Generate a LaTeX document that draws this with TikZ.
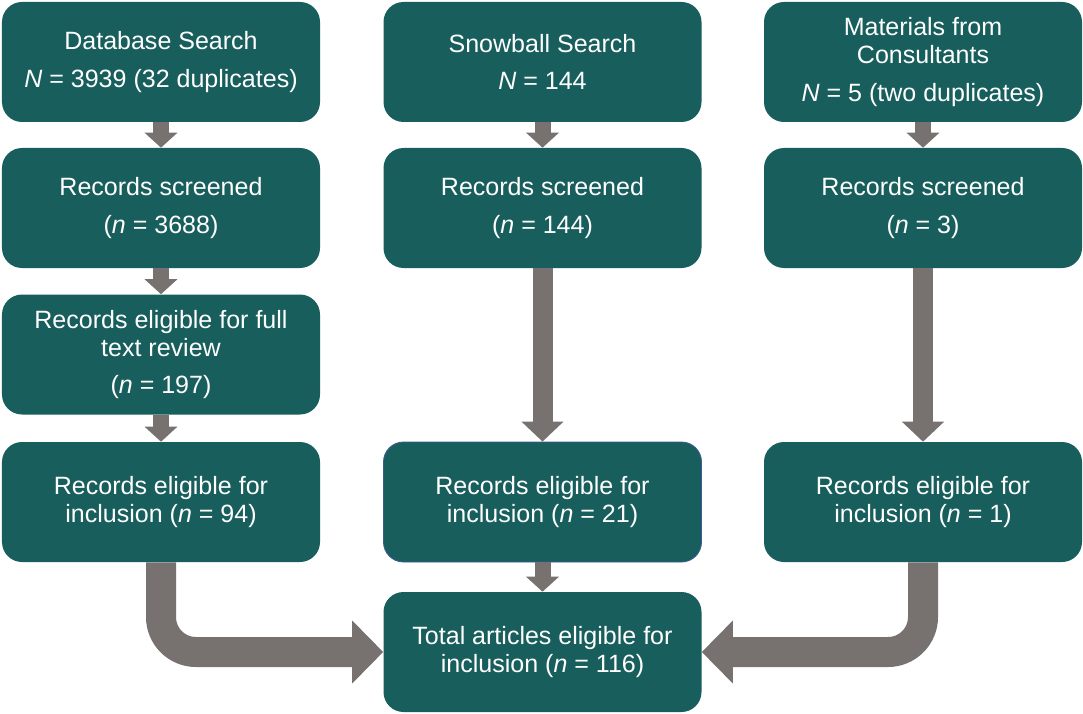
\documentclass[tikz,border=0pt]{standalone}
\usepackage{fontspec}
\setmainfont{Liberation Sans}
\usepackage{tikz}
\usetikzlibrary{arrows.meta}
\definecolor{boxteal}{HTML}{175E5C}
\definecolor{arrowgray}{HTML}{77716F}
\definecolor{edgeblue}{HTML}{3D5A96}

\begin{document}
\begin{tikzpicture}[
  box/.style={fill=boxteal, text=white, rounded corners=0.5cm, minimum width=7.95cm,
    minimum height=3cm, inner sep=0pt, align=center, font=\fontsize{17.8}{19.9}\selectfont},
  smallarrow/.style={draw=arrowgray, line width=0.4cm, -{Triangle[width=0.8cm,length=0.375cm]}},
  longarrow/.style={draw=arrowgray, line width=0.5cm, -{Triangle[width=1.025cm,length=0.5cm]}},
  bigarrow/.style={draw=arrowgray, line width=0.75cm, rounded corners=0.875cm,
    -{Triangle[width=1.525cm,length=0.775cm]}}
]
\useasboundingbox (0,0) rectangle (27.075,17.825);

% database column
\node [box] (db1) at (4.025,16.275) {Database Search\\[7pt]\textit{N} = 3939 (32 duplicates)};
\node [box] (db2) at (4.025,12.625) {Records screened\\[7pt](\textit{n} = 3688)};
\node [box] (db3) at (4.025,8.9625) {Records eligible for full\\text review\\[7pt](\textit{n} = 197)};
\node [box] (db4) at (4.025,5.275) {Records eligible for\\inclusion (\textit{n} = 94)};

% snowball column
\node [box] (sb1) at (13.5625,16.275) {Snowball Search\\[7pt]\textit{N} = 144};
\node [box] (sb2) at (13.5625,12.625) {Records screened\\[7pt](\textit{n} = 144)};
\node [box, draw=edgeblue, line width=0.6pt] (sb4) at (13.5625,5.275) {Records eligible for\\inclusion (\textit{n} = 21)};

% consultants column
\node [box] (mc1) at (23.075,16.275) {Materials from\\Consultants\\[7pt]\textit{N} = 5 (two duplicates)};
\node [box] (mc2) at (23.075,12.625) {Records screened\\[7pt](\textit{n} = 3)};
\node [box] (mc4) at (23.075,5.275) {Records eligible for\\inclusion (\textit{n} = 1)};

\node [box] (total) at (13.5625,1.525) {Total articles eligible for\\inclusion (\textit{n} = 116)};

\draw [smallarrow] (db1) -- (db2);
\draw [smallarrow] (db2) -- (db3);
\draw [smallarrow] (db3) -- (db4);
\draw [smallarrow] (sb1) -- (sb2);
\draw [smallarrow] (mc1) -- (mc2);
\draw [smallarrow] (sb4) -- (total);
\draw [longarrow] (sb2) -- (sb4);
\draw [longarrow] (mc2) -- (mc4);
\draw [bigarrow] (db4.south) |- (total.west);
\draw [bigarrow] (mc4.south) |- (total.east);
\end{tikzpicture}
\end{document}
